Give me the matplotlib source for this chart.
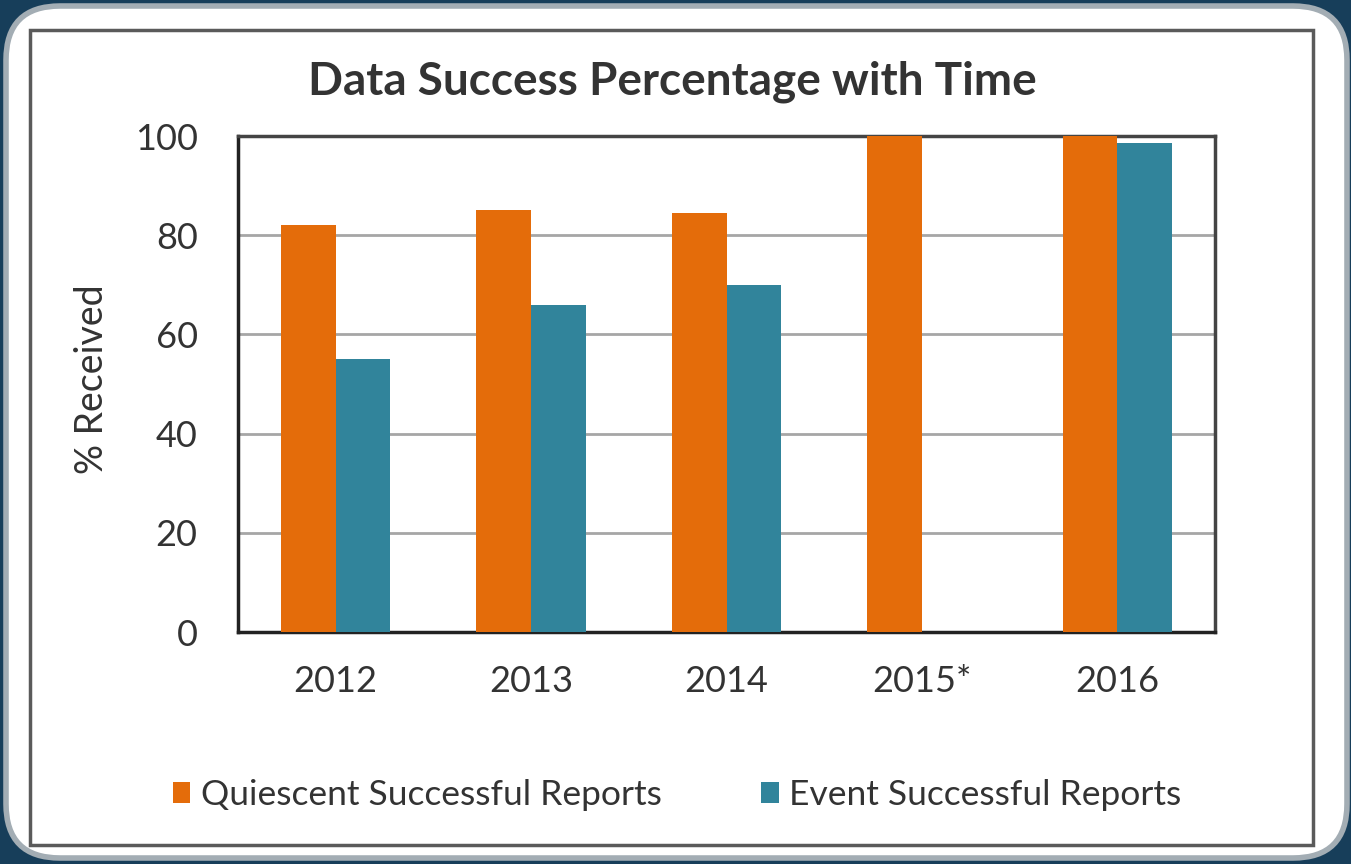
import matplotlib
matplotlib.use("Agg")
import matplotlib.pyplot as plt
from matplotlib.patches import FancyBboxPatch, Rectangle
import numpy as np

categories = ["2012", "2013", "2014", "2015*", "2016"]
quiescent = [82, 85, 84.5, 100, 100]
event = [55, 66, 70, 0, 98.5]
series_names = ["Quiescent Successful Reports", "Event Successful Reports"]
yticks = [0, 20, 40, 60, 80, 100]

ORANGE = "#E46C0A"
TEAL = "#31849B"
NAVY = "#173E5A"

plt.rcParams['font.family'] = ['Lato', 'DejaVu Sans']

W, H = 1351, 864
fig = plt.figure(figsize=(W / 100, H / 100), dpi=100)
fig.patch.set_facecolor(NAVY)

# white rounded panel with gray border
panel = FancyBboxPatch((6 / W, 6 / H), (W - 10) / W, (H - 12) / H,
                       boxstyle="round,pad=0,rounding_size=0.04",
                       transform=fig.transFigure, facecolor="white",
                       edgecolor="#A3ADB4", linewidth=4, zorder=-2,
                       mutation_aspect=W / H)
fig.patches.append(panel)

# inner chart border
inner = Rectangle((30 / W, 1 - 845 / H), (1313 - 30) / W, (845 - 30) / H,
                  transform=fig.transFigure, facecolor="none",
                  edgecolor="#5a5a5a", linewidth=2.5, zorder=-1)
fig.patches.append(inner)

ax = fig.add_axes([238 / W, 1 - 632 / H, (1215 - 238) / W, (632 - 136) / H])
ax.set_facecolor("white")
x = np.arange(len(categories))
bw = 0.28
ax.bar(x - bw / 2, quiescent, bw, color=ORANGE, label=series_names[0], zorder=3)
ax.bar(x + bw / 2, event, bw, color=TEAL, label=series_names[1], zorder=3)

ax.set_xlim(-0.5, len(categories) - 0.5)
ax.set_ylim(0, 100)
ax.set_yticks(yticks)
ax.set_xticks(x)
ax.set_xticklabels(categories)
ax.tick_params(axis="both", length=0, labelsize=26, colors="#333333")
ax.tick_params(axis="y", pad=29)
ax.tick_params(axis="x", pad=24)
ax.yaxis.grid(True, color="#A6A6A6", linewidth=2, zorder=0)
ax.set_axisbelow(True)
for s in ax.spines.values():
    s.set_color("#444444")
    s.set_linewidth(2.5)
ax.spines["left"].set_color("#222222")
ax.spines["bottom"].set_color("#222222")

ax.set_ylabel("% Received", fontsize=27, color="#333333")
ax.yaxis.set_label_coords(-0.131, 0.51)
fig.text(672 / W, 1 - 82 / H, "Data Success Percentage with Time",
         ha="center", va="center", fontsize=33, fontweight="bold", color="#333333")

leg = fig.legend(loc="center", bbox_to_anchor=(677 / W, 1 - 795 / H), ncol=2,
                 frameon=False, fontsize=25.5, handlelength=0.5, handleheight=0.5,
                 handletextpad=0.3, columnspacing=2.8)
for t in leg.get_texts():
    t.set_color("#333333")

fig.savefig("out.png", dpi=100, facecolor=fig.get_facecolor())
